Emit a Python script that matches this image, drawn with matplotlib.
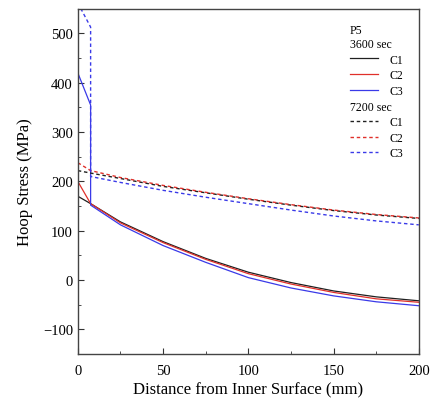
import matplotlib.pyplot as plt
from matplotlib.ticker import MultipleLocator

plt.rcParams['font.family'] = ['Liberation Serif', 'DejaVu Serif']

# distance from inner surface (mm)
x_c1 = [0, 7.5, 25, 50, 75, 100, 125, 150, 175, 200]
x_c3 = [0, 7.5, 7.5, 25, 50, 75, 100, 125, 150, 175, 200]

# 3600 sec
s3600_c1 = [170, 155, 118, 78, 44, 16, -5, -22, -34, -42]
s3600_c2 = [200, 155, 116, 76, 42, 13, -8, -25, -38, -45]
s3600_c3 = [420, 355, 152, 112, 70, 36, 5, -16, -32, -44, -52]

# 7200 sec
s7200_c1 = [222, 217, 206, 190, 177, 164, 152, 141, 132, 125]
s7200_c2 = [238, 222, 208, 192, 178, 165, 153, 142, 133, 126]
s7200_c3 = [562, 513, 210, 198, 182, 168, 155, 142, 130, 120, 112]

colors = {'C1': '#202020', 'C2': '#e0302a', 'C3': '#3a3ae8'}
dash = (0, (2.5, 2.0))

fig = plt.figure(figsize=(4.3, 4.1), dpi=100)
ax = fig.add_axes([0.181, 0.134, 0.793, 0.842])

l1, = ax.plot(x_c1, s3600_c1, color=colors['C1'], lw=0.9)
l2, = ax.plot(x_c1, s3600_c2, color=colors['C2'], lw=0.9)
l3, = ax.plot(x_c3, s3600_c3, color=colors['C3'], lw=0.9)
d1, = ax.plot(x_c1, s7200_c1, color=colors['C1'], lw=1.0, ls=dash)
d2, = ax.plot(x_c1, s7200_c2, color=colors['C2'], lw=1.0, ls=dash)
d3, = ax.plot(x_c3, s7200_c3, color=colors['C3'], lw=1.0, ls=dash)

ax.set_xlim(0, 200)
ax.set_ylim(-150, 550)
ax.xaxis.set_major_locator(MultipleLocator(50))
ax.xaxis.set_minor_locator(MultipleLocator(25))
ax.yaxis.set_major_locator(MultipleLocator(100))
ax.yaxis.set_minor_locator(MultipleLocator(50))
ax.tick_params(which='both', direction='in', labelsize=10.5, color='#333333')
ax.tick_params(which='major', length=4)
ax.tick_params(which='minor', length=2.5)
ax.tick_params(axis='x', pad=7)
for sp in ax.spines.values():
    sp.set_color('#444444')
    sp.set_linewidth(1.0)

ax.set_xlabel('Distance from Inner Surface (mm)', fontsize=12, labelpad=3)
ax.set_ylabel('Hoop Stress (MPa)', fontsize=12, labelpad=7)

leg_kw = dict(loc='upper left', frameon=False, fontsize=8.5, title_fontsize=8.5,
              alignment='left', handlelength=2.4, handletextpad=1.0,
              labelspacing=0.3, borderpad=0.1)
leg1 = ax.legend([l1, l2, l3], ['C1', 'C2', 'C3'], title='P5\n3600 sec',
                 bbox_to_anchor=(0.776, 0.976), **leg_kw)
ax.add_artist(leg1)
ax.legend([d1, d2, d3], ['C1', 'C2', 'C3'], title='7200 sec',
          bbox_to_anchor=(0.776, 0.754), **leg_kw)

fig.savefig('out.png', dpi=100)
